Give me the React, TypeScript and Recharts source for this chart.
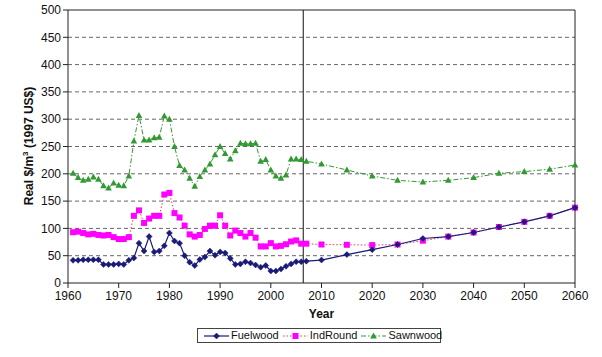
import React from 'react';
import {
  LineChart,
  Line,
  XAxis,
  YAxis,
  CartesianGrid,
  ReferenceLine,
  Legend,
} from 'recharts';

if (typeof document !== 'undefined') {
  document.body.style.margin = '0';
}

// ---- Data ----
const histYears = [
  1961, 1962, 1963, 1964, 1965, 1966, 1967, 1968, 1969, 1970, 1971, 1972,
  1973, 1974, 1975, 1976, 1977, 1978, 1979, 1980, 1981, 1982, 1983, 1984,
  1985, 1986, 1987, 1988, 1989, 1990, 1991, 1992, 1993, 1994, 1995, 1996,
  1997, 1998, 1999, 2000, 2001, 2002, 2003, 2004, 2005, 2006, 2007,
];
const projYears = [2010, 2015, 2020, 2025, 2030, 2035, 2040, 2045, 2050, 2055, 2060];

const fuelwoodHist = [
  41.5, 41.5, 42.5, 42.5, 42.5, 42.5, 34, 34, 34, 35, 34, 41.5,
  46, 73, 58.5, 85, 57, 58.5, 68, 91.5, 77, 73, 50, 38,
  32, 43, 47.5, 58.5, 51, 57, 55, 45, 34, 35, 39, 36.5,
  33, 29, 32, 22, 22, 25.5, 30.5, 35, 39, 39, 40,
];
const fuelwoodProj = [42, 52, 61, 70.5, 81.5, 85, 92.5, 102.5, 112, 123, 138];

const indRoundHist = [
  93, 94, 91.5, 89, 90, 88, 87, 88, 84, 80.5, 80.5, 84,
  123, 133, 110, 118, 123, 123, 162, 165, 128, 120, 105, 89,
  85, 88, 99, 105, 105, 124, 105, 87, 96, 91.5, 85, 91.5,
  83, 67, 67, 73, 67, 68, 71, 76, 78, 72, 72,
];
const indRoundProj = [70.5, 70, 69.5, 70.5, 77.5, 85, 92.5, 102.5, 112, 123, 138];

const sawnwoodHist = [
  201, 193, 188, 190, 194, 190, 178, 174, 183, 179, 178, 196,
  260, 307, 262, 262, 266, 267, 306, 300, 250, 215, 207, 192,
  177, 195, 207, 218, 235, 250, 237, 227, 242, 256, 255, 255,
  256, 223, 226, 207, 196, 192, 198, 227, 227, 226, 223,
];
const sawnwoodProj = [218, 207, 196, 188, 185, 188, 193, 201, 204, 208.5, 216];

const xTicks = [1960, 1970, 1980, 1990, 2000, 2010, 2020, 2030, 2040, 2050, 2060];
const yTicks = [0, 50, 100, 150, 200, 250, 300, 350, 400, 450, 500];
const gridValues = [50, 100, 150, 200, 250, 300, 350, 400, 450];
const dividerYear = 2006.4;

const build = (hist: number[], proj: number[]) => [
  ...histYears.map((year, i) => ({ year, v: hist[i] })),
  ...projYears.map((year, i) => ({ year, v: proj[i] })),
];

const fuelwoodData = build(fuelwoodHist, fuelwoodProj);
const indRoundData = build(indRoundHist, indRoundProj);
const sawnwoodData = build(sawnwoodHist, sawnwoodProj);

// ---- Styles ----
const FONT = '"Liberation Sans", Arial, Helvetica, sans-serif';
const C_FUEL = '#1a1a78';
const C_IND_LINE = '#ff3366';
const C_IND_MARK = '#ff00ff';
const C_SAWN = '#339933';

const Diamond = ({ cx, cy, color }: any) => (
  <path d={`M${cx},${cy - 3} L${cx + 3},${cy} L${cx},${cy + 3} L${cx - 3},${cy} Z`} fill={color} stroke={color} strokeWidth={0.5} />
);
const Square = ({ cx, cy, color }: any) => (
  <rect x={cx - 3} y={cy - 3} width={6} height={6} fill={color} />
);
const Triangle = ({ cx, cy, color }: any) => (
  <path d={`M${cx},${cy - 3.5} L${cx + 3.3},${cy + 2.5} L${cx - 3.3},${cy + 2.5} Z`} fill={color} />
);

const renderDiamond = (p: any) => <Diamond key={`fd-${p.index}`} cx={p.cx} cy={p.cy} color={C_FUEL} />;
const renderSquare = (p: any) => <Square key={`sq-${p.index}`} cx={p.cx} cy={p.cy} color={C_IND_MARK} />;
const renderTriangle = (p: any) => <Triangle key={`tr-${p.index}`} cx={p.cx} cy={p.cy} color={C_SAWN} />;

const LegendContent = () => {
  const item = (label: string, line: React.ReactNode, gap: number) => (
    <div style={{ display: 'flex', alignItems: 'center', marginRight: gap }}>
      <svg width={25} height={12} style={{ display: 'block' }}>{line}</svg>
      <span style={{ marginLeft: 2 }}>{label}</span>
    </div>
  );
  return (
    <div
      style={{
        boxSizing: 'border-box',
        width: 244,
        height: 15,
        border: '1px solid #444',
        background: '#fff',
        display: 'flex',
        alignItems: 'center',
        paddingLeft: 6,
        fontFamily: FONT,
        fontSize: 11,
        color: '#111',
        lineHeight: '13px',
      }}
    >
      {item(
        'Fuelwood',
        <g>
          <line x1={0} y1={6} x2={25} y2={6} stroke={C_FUEL} strokeWidth={1.2} />
          <Diamond cx={12.5} cy={6} color={C_FUEL} />
        </g>,
        4
      )}
      {item(
        'IndRound',
        <g>
          <line x1={0} y1={6} x2={25} y2={6} stroke={C_IND_LINE} strokeWidth={1} strokeDasharray="1.5 2" />
          <Square cx={12.5} cy={6} color={C_IND_MARK} />
        </g>,
        4
      )}
      {item(
        'Sawnwood',
        <g>
          <line x1={0} y1={6} x2={25} y2={6} stroke={C_SAWN} strokeWidth={1} strokeDasharray="5 2 1.5 2" />
          <Triangle cx={12.5} cy={6} color={C_SAWN} />
        </g>,
        0
      )}
    </div>
  );
};

const YLabel = () => (
  <text
    transform="translate(33,146) rotate(-90)"
    textAnchor="middle"
    fontFamily={FONT}
    fontSize={12}
    fontWeight="bold"
    fill="#111"
  >
    Real $/m<tspan fontSize={8} dy={-5}>3</tspan>
    <tspan dy={5}> (1997 US$)</tspan>
  </text>
);

const XLabel = (props: any) => {
  const vb = props.viewBox || {};
  return (
    <text
      x={vb.x + vb.width / 2}
      y={vb.y + 35}
      textAnchor="middle"
      fontFamily={FONT}
      fontSize={12}
      fontWeight="bold"
      fill="#111"
    >
      Year
    </text>
  );
};

export default function App() {
  return (
    <div style={{ width: 602, height: 357, background: '#fff', position: 'relative' }}>
      <LineChart
        width={602}
        height={357}
        margin={{ top: 10, right: 27, bottom: 44, left: 0 }}
        style={{ fontFamily: FONT }}
      >
        <CartesianGrid
          horizontal
          vertical={false}
          horizontalValues={gridValues}
          stroke="#666"
          strokeDasharray="4 3"
        />
        <XAxis
          dataKey="year"
          type="number"
          domain={[1960, 2060]}
          ticks={xTicks}
          allowDecimals={false}
          height={30}
          tickSize={5}
          tickMargin={3.5}
          stroke="#222"
          tick={{ fill: '#111', fontSize: 12, fontFamily: FONT }}
          interval={0}
          label={<XLabel />}
        />
        <YAxis
          type="number"
          domain={[0, 500]}
          ticks={yTicks}
          width={68}
          tickSize={5}
          tickMargin={2}
          stroke="#222"
          tick={{ fill: '#111', fontSize: 12, fontFamily: FONT }}
          interval={0}
          label={<YLabel />}
        />
        <ReferenceLine y={500} stroke="#222" strokeWidth={1} />
        <ReferenceLine x={2060} stroke="#222" strokeWidth={1} />
        <ReferenceLine x={dividerYear} stroke="#111" strokeWidth={1} />
        <Line
          data={sawnwoodData}
          dataKey="v"
          name="Sawnwood"
          stroke={C_SAWN}
          strokeWidth={1}
          strokeDasharray="5 2 1.5 2"
          dot={renderTriangle}
          activeDot={false}
          isAnimationActive={false}
          type="linear"
        />
        <Line
          data={indRoundData}
          dataKey="v"
          name="IndRound"
          stroke={C_IND_LINE}
          strokeWidth={1}
          strokeDasharray="1.5 2"
          dot={renderSquare}
          activeDot={false}
          isAnimationActive={false}
          type="linear"
        />
        <Line
          data={fuelwoodData}
          dataKey="v"
          name="Fuelwood"
          stroke={C_FUEL}
          strokeWidth={1.2}
          dot={renderDiamond}
          activeDot={false}
          isAnimationActive={false}
          type="linear"
        />
        <Legend
          layout="horizontal"
          verticalAlign="middle"
          align="center"
          content={<LegendContent />}
          wrapperStyle={{ left: 197, top: 328, width: 244, height: 15 }}
        />
      </LineChart>
    </div>
  );
}
